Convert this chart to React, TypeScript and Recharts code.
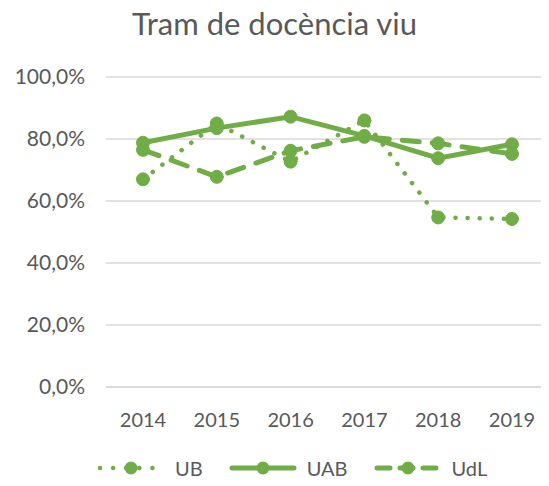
import React from 'react';
import { LineChart, Line, XAxis, YAxis, CartesianGrid, Legend } from 'recharts';

const years = ['2014', '2015', '2016', '2017', '2018', '2019'];
const ub = [67.0, 85.0, 72.7, 86.0, 54.7, 54.2];
const uab = [78.8, 83.5, 87.2, 81.0, 73.8, 78.3];
const udl = [76.5, 67.8, 76.2, 80.7, 78.6, 75.2];
const yTicks = [0, 20, 40, 60, 80, 100];

const GREEN = '#70AD47';
const TEXT = '#595959';
const FONT = 'Lato';

const data = years.map((y, i) => ({ year: y, UB: ub[i], UAB: uab[i], UdL: udl[i] }));

const fmt = (v: number) => `${v.toFixed(1).replace('.', ',')}%`;

const series = [
  { key: 'UB', dash: '0.1 12', width: 4.5 },
  { key: 'UAB', dash: undefined, width: 5 },
  { key: 'UdL', dash: '17 13', width: 5 },
];

function CustomLegend() {
  return (
    <div style={{ display: 'flex', paddingLeft: 97, alignItems: 'center', fontFamily: FONT, height: 24 }}>
      {series.map((s) => (
        <div key={s.key} style={{ display: 'flex', alignItems: 'center', marginRight: 26 }}>
          <svg width={68} height={16}>
            <line x1={3} y1={8} x2={65} y2={8} stroke={GREEN} strokeWidth={s.width}
              strokeDasharray={s.key === 'UB' ? '0.1 13' : s.key === 'UdL' ? '13 10' : undefined}
              strokeLinecap="round" />
            <circle cx={34} cy={8} r={6.5} fill={GREEN} />
          </svg>
          <span style={{ marginLeft: 10, fontSize: 20, lineHeight: '24px', color: TEXT }}>{s.key}</span>
        </div>
      ))}
    </div>
  );
}

export default function App() {
  return (
    <div style={{ position: 'relative', width: 549, height: 486, margin: -8, background: '#fff', fontFamily: FONT }}>
      <div style={{ position: 'absolute', top: 5, left: 0, width: 549, textAlign: 'center', fontSize: 31, lineHeight: '36px', color: TEXT }}>
        Tram de docència viu
      </div>
      <LineChart width={549} height={486} data={data} margin={{ top: 77, right: 0, bottom: 45, left: 0 }}>
        <CartesianGrid vertical={false} stroke="#D9D9D9" strokeWidth={1.3} />
        <XAxis dataKey="year" height={30} padding={{ left: 37, right: 37 }} tickLine={false}
          axisLine={{ stroke: '#D9D9D9', strokeWidth: 1.3 }} tickSize={0} tickMargin={26}
          tick={{ fontSize: 20, fill: TEXT, fontFamily: FONT }} />
        <YAxis width={106} domain={[0, 100]} ticks={yTicks} tickFormatter={fmt} axisLine={false} tickLine={false}
          tickSize={0} tickMargin={21} tick={{ fontSize: 21, fill: TEXT, fontFamily: FONT }} />
        {series.map((s) => (
          <Line key={s.key} type="linear" dataKey={s.key} stroke={GREEN} strokeWidth={s.width}
            strokeDasharray={s.dash} strokeLinecap="round" isAnimationActive={false}
            dot={{ r: 6.5, fill: GREEN, stroke: GREEN, strokeWidth: 1, strokeDasharray: '' }} activeDot={false} />
        ))}
        <Legend content={<CustomLegend />} wrapperStyle={{ top: 456, left: 0, width: 549 }} />
      </LineChart>
    </div>
  );
}
